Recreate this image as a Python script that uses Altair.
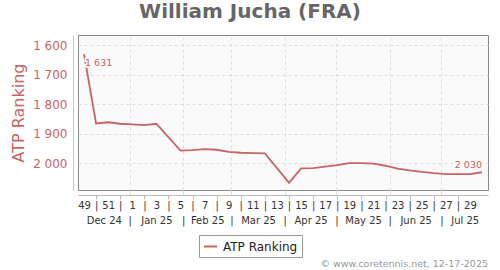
import altair as alt
import pandas as pd

# ---------------- data ----------------
TITLE = "William Jucha (FRA)"
SERIES = "ATP Ranking"
CREDIT = "© www.coretennis.net, 12-17-2025"

WEEK_DATES = [
    "2024-12-05", "2024-12-12", "2024-12-19", "2024-12-26", "2025-01-02",
    "2025-01-09", "2025-01-16", "2025-01-30", "2025-02-06", "2025-02-13",
    "2025-02-20", "2025-02-27", "2025-03-06", "2025-03-13", "2025-03-20",
    "2025-04-03", "2025-04-10", "2025-04-17", "2025-04-24", "2025-05-01",
    "2025-05-08", "2025-05-15", "2025-05-22", "2025-05-29", "2025-06-05",
    "2025-06-12", "2025-06-19", "2025-06-26", "2025-07-03", "2025-07-10",
    "2025-07-17", "2025-07-24",
]
RANKS = [
    1631, 1865, 1861, 1866, 1868,
    1871, 1866, 1957, 1955, 1952,
    1954, 1961, 1964, 1965, 1966,
    2066, 2017, 2016, 2011, 2006,
    1999, 1999, 2001, 2008, 2018,
    2024, 2029, 2033, 2036, 2036,
    2036, 2030,
]

Y_TICKS = [1600, 1700, 1800, 1900, 2000]
WEEK_TICK_LABELS = ["49", "|", "51", "|", "1", "|", "3", "|", "5", "|", "7", "|",
                    "9", "|", "11", "|", "13", "|", "15", "|", "17", "|", "19", "|",
                    "21", "|", "23", "|", "25", "|", "27", "|", "29"]
WEEK_TICK_START = "2024-12-05"
MONTH_LABELS = ["Dec 24", "Jan 25", "Feb 25", "Mar 25", "Apr 25", "May 25", "Jun 25", "Jul 25"]
MONTH_BOUNDS = ["2025-01-01", "2025-02-01", "2025-03-01", "2025-04-01",
                "2025-05-01", "2025-06-01", "2025-07-01"]
X_START = "2024-12-02"
X_END = "2025-07-28"

# ---------------- styles ----------------
RED = "#c86464"
FONT = "DejaVu Sans"
GRID = "#dedede"

t0 = pd.Timestamp(X_START)


def day(d, noon=False):
    return (pd.Timestamp(d) - t0).days + (0.5 if noon else 0.0)


x_end = day(X_END)
df = pd.DataFrame({
    "day": [day(d, True) for d in WEEK_DATES],
    "rank": RANKS,
    "series": SERIES,
})
df["idx"] = range(len(df))
last_idx = len(df) - 1

week_vals = [day(WEEK_TICK_START, True) + 7 * i for i in range(len(WEEK_TICK_LABELS))]
sep_vals = [v for v, l in zip(week_vals, WEEK_TICK_LABELS) if l == "|"]
bound_vals = [day(d) for d in MONTH_BOUNDS]
edges = [0.0] + bound_vals + [x_end]
mid_vals = [(edges[i] + edges[i + 1]) / 2 for i in range(len(MONTH_LABELS))]
month_vals = bound_vals + mid_vals
month_lbls = ["|"] * len(bound_vals) + MONTH_LABELS


def js_arr(a):
    return "[" + ",".join(repr(x) if isinstance(x, str) else str(x) for x in a) + "]"


week_expr = f"{js_arr(WEEK_TICK_LABELS)}[indexof({js_arr(week_vals)}, datum.value)]"
month_expr = f"{js_arr(month_lbls)}[indexof({js_arr(month_vals)}, datum.value)]"
sep_test = f"indexof({js_arr(sep_vals)}, datum.value) >= 0"

xscale = alt.Scale(domain=[0, x_end], nice=False, zero=False)
yscale = alt.Scale(domain=[1566, 2090], reverse=True, nice=False, zero=False)

grid_axis = alt.Axis(orient="bottom", values=bound_vals, grid=True, gridDash=[3, 3],
                     gridColor=GRID, labels=False, domain=False, ticks=True,
                     tickSize=5, tickColor=GRID, title=None)
week_axis = alt.Axis(orient="bottom", values=week_vals, labelExpr=week_expr, grid=False,
                     offset=5, domainColor="#bbbbbb", tickSize=4,
                     tickColor={"condition": {"test": sep_test, "value": "#bbbbbb"},
                                "value": "transparent"},
                     labelPadding=1, labelFontSize=10, labelColor="#333333",
                     labelFont=FONT, labelFlush=False, labelOverlap=False, title=None)
month_axis = alt.Axis(orient="bottom", values=month_vals, labelExpr=month_expr, grid=False,
                      domain=False, ticks=False, labelPadding=25, labelFontSize=10,
                      labelColor="#333333", labelFont=FONT, labelFlush=False,
                      labelOverlap=False, title=None)
y_axis = alt.Axis(values=Y_TICKS, labelExpr="replace(format(datum.value, ','), ',', ' ')",
                  title=SERIES, grid=True, gridDash=[3, 3], gridColor=GRID, ticks=False,
                  domainColor="#e8b8b8", offset=5, labelColor=RED, labelFontSize=12,
                  labelFont=FONT, labelPadding=6, labelOverlap=False, labelFlush=False,
                  labelBound=False, titleColor=RED, titleFontSize=16,
                  titleFont=FONT, titleFontWeight="normal", titlePadding=6)

base = alt.Chart(df)

line = base.mark_line(strokeWidth=1.8).encode(
    x=alt.X("day:Q", scale=xscale, axis=grid_axis),
    y=alt.Y("rank:Q", scale=yscale, axis=y_axis),
    color=alt.Color("series:N", scale=alt.Scale(range=[RED]),
                    legend=alt.Legend(orient="none", legendX=121, legendY=200, title=None,
                                      symbolType="stroke", symbolStrokeWidth=2,
                                      symbolSize=169, labelFontSize=12, labelFont=FONT,
                                      labelColor="#222222", strokeColor="#999999",
                                      padding=4, labelOffset=5, fillColor="#ffffff")),
)

lab = "replace(format(datum.rank, ','), ',', ' ')"


def label_layer(test, align, dx, dy, halo, axis):
    kw = dict(align=align, baseline="middle", dx=dx, dy=dy, fontSize=9.5, font=FONT)
    if halo:
        kw.update(stroke="#fafafa", strokeWidth=3, fill="#fafafa")
    else:
        kw.update(color=RED)
    return base.transform_filter(test).transform_calculate(lab=lab).mark_text(**kw).encode(
        x=alt.X("day:Q", scale=xscale, axis=axis),
        y=alt.Y("rank:Q", scale=yscale, axis=y_axis),
        text="lab:N",
    )


first = "datum.idx == 0"
last = f"datum.idx == {last_idx}"
halo1 = label_layer(first, "left", 1, 9, True, week_axis)
halo2 = label_layer(last, "right", 0, -7, True, None)
text1 = label_layer(first, "left", 1, 9, False, month_axis)
text2 = label_layer(last, "right", 0, -7, False, None)

credit = alt.Chart(alt.Data(values=[{"t": CREDIT}])).mark_text(
    align="right", baseline="middle", fontSize=9.5, font=FONT, color="#999999"
).encode(x=alt.value(410), y=alt.value(229), text="t:N")

chart = alt.layer(line, halo1, halo2, text1, text2, credit).resolve_axis(
    x="independent"
).properties(
    width=410, height=155,
    title=alt.TitleParams(TITLE, fontSize=20, fontWeight="bold", color="#666666",
                          font=FONT, anchor="middle", dx=-33, offset=13),
    autosize=alt.AutoSizeParams(type="none"),
    padding={"left": 78, "top": 35, "right": 12, "bottom": 80},
    background="#ffffff",
).configure_view(fill="#fafafa", stroke="#888888", strokeWidth=1
).configure_axis(labelOverlap=False)

chart.save("out.html", embed_options={"renderer": "svg", "actions": False})
